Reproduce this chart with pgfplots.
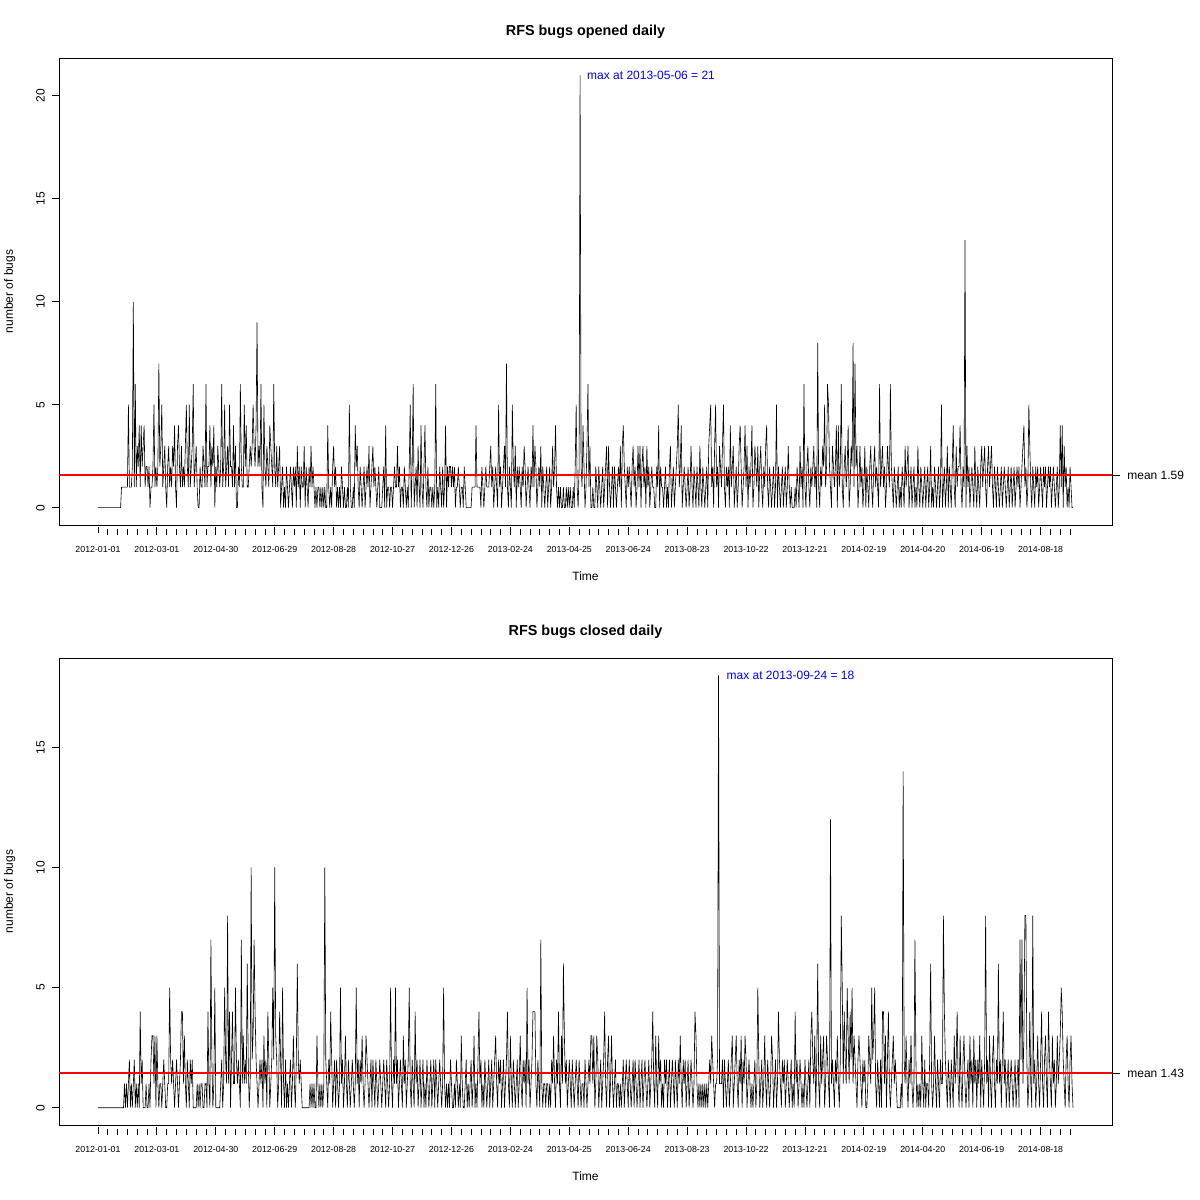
\documentclass[border=0pt]{standalone}
\usepackage{pgfplots}
\pgfplotsset{compat=1.18}
\usepackage{pgfplotstable}
\usepackage{fontspec}
\setmainfont{Liberation Sans}

% daily counts from 2012-01-01, one value per day
\pgfplotstableread[header=false,row sep=\\]{
0\\0\\0\\0\\0\\0\\0\\0\\0\\0\\
0\\0\\0\\0\\0\\0\\0\\0\\0\\0\\
0\\0\\0\\0\\1\\1\\1\\1\\1\\1\\
1\\5\\1\\1\\1\\2\\10\\1\\6\\1\\
3\\2\\4\\1\\4\\2\\3\\4\\1\\2\\
2\\1\\2\\0\\1\\1\\2\\5\\1\\2\\
1\\2\\7\\2\\3\\5\\1\\2\\3\\1\\
0\\2\\3\\1\\2\\1\\3\\2\\4\\1\\
0\\3\\4\\2\\1\\3\\1\\2\\1\\3\\
5\\2\\1\\5\\1\\2\\3\\6\\1\\2\\
3\\1\\0\\0\\2\\1\\1\\3\\2\\1\\
6\\1\\2\\2\\4\\1\\3\\2\\4\\0\\
2\\1\\3\\2\\1\\2\\6\\1\\2\\5\\
1\\2\\3\\1\\5\\2\\2\\1\\4\\1\\
3\\0\\0\\2\\1\\6\\2\\1\\1\\5\\
2\\4\\1\\1\\2\\3\\2\\3\\5\\3\\
2\\4\\9\\2\\3\\2\\6\\1\\0\\5\\
2\\1\\3\\2\\1\\4\\3\\2\\1\\6\\
2\\1\\3\\1\\2\\3\\0\\1\\2\\0\\
1\\0\\2\\1\\0\\1\\2\\1\\0\\2\\
1\\2\\0\\3\\1\\2\\0\\2\\1\\1\\
3\\0\\2\\1\\0\\2\\1\\3\\1\\2\\
1\\0\\1\\0\\1\\1\\0\\1\\0\\1\\
0\\1\\0\\0\\4\\1\\0\\1\\0\\2\\
3\\1\\2\\0\\1\\0\\1\\0\\2\\1\\
0\\1\\0\\0\\1\\0\\5\\1\\0\\0\\
1\\0\\4\\2\\3\\1\\0\\2\\1\\0\\
1\\2\\0\\1\\2\\1\\3\\0\\1\\2\\
3\\1\\2\\1\\0\\1\\2\\0\\0\\0\\
1\\2\\0\\4\\0\\1\\1\\0\\1\\1\\
0\\1\\2\\1\\1\\3\\1\\2\\0\\1\\
1\\0\\2\\1\\0\\1\\0\\2\\5\\0\\
2\\6\\0\\1\\2\\0\\3\\1\\0\\4\\
1\\0\\2\\4\\1\\0\\2\\0\\1\\1\\
0\\1\\0\\1\\6\\0\\1\\0\\2\\1\\
0\\2\\0\\1\\4\\0\\2\\1\\2\\2\\
1\\2\\1\\2\\0\\1\\1\\2\\1\\0\\
1\\1\\0\\2\\1\\0\\0\\0\\0\\0\\
0\\1\\1\\1\\1\\4\\1\\1\\1\\1\\
0\\2\\1\\0\\1\\2\\1\\1\\1\\2\\
3\\1\\2\\0\\1\\2\\1\\0\\5\\1\\
2\\0\\1\\2\\3\\1\\7\\1\\0\\2\\
1\\0\\5\\2\\1\\3\\0\\2\\1\\2\\
1\\0\\2\\1\\3\\2\\0\\1\\2\\1\\
0\\2\\1\\4\\1\\3\\2\\0\\1\\2\\
1\\3\\0\\2\\1\\0\\1\\2\\0\\1\\
2\\0\\1\\3\\1\\2\\4\\1\\0\\1\\
0\\1\\0\\0\\1\\0\\0\\1\\0\\1\\
0\\1\\0\\0\\1\\0\\2\\5\\1\\0\\
2\\21\\2\\1\\4\\2\\0\\1\\3\\6\\
1\\3\\0\\0\\1\\0\\0\\2\\1\\0\\
2\\1\\0\\1\\2\\0\\1\\2\\3\\0\\
3\\1\\0\\1\\2\\0\\2\\1\\0\\1\\
2\\1\\3\\0\\3\\4\\2\\1\\0\\2\\
1\\2\\1\\0\\2\\3\\1\\2\\0\\1\\
3\\1\\3\\0\\2\\3\\1\\2\\0\\3\\
1\\2\\0\\1\\2\\1\\1\\0\\0\\2\\
1\\4\\0\\2\\1\\1\\0\\1\\2\\0\\
1\\0\\2\\3\\0\\1\\2\\0\\1\\2\\
3\\5\\1\\2\\4\\0\\1\\2\\1\\0\\
1\\2\\0\\1\\3\\1\\0\\2\\1\\0\\
2\\1\\0\\3\\1\\0\\2\\1\\0\\1\\
2\\0\\3\\4\\5\\1\\2\\0\\3\\5\\
1\\2\\0\\3\\2\\1\\3\\5\\1\\0\\
2\\1\\2\\0\\4\\1\\2\\3\\0\\1\\
2\\0\\1\\3\\4\\2\\0\\1\\2\\4\\
1\\3\\0\\2\\1\\2\\4\\0\\1\\3\\
2\\1\\3\\0\\2\\3\\1\\0\\2\\1\\
3\\4\\1\\0\\2\\1\\0\\1\\2\\0\\
1\\5\\0\\2\\1\\0\\1\\2\\0\\1\\
2\\0\\1\\3\\1\\0\\1\\0\\0\\0\\
1\\0\\2\\1\\0\\3\\1\\2\\0\\6\\
1\\0\\2\\3\\1\\0\\2\\1\\2\\3\\
1\\2\\0\\8\\1\\0\\2\\1\\3\\2\\
5\\1\\2\\6\\5\\2\\1\\0\\3\\2\\
1\\2\\4\\0\\4\\1\\2\\6\\1\\0\\
2\\3\\1\\2\\4\\0\\1\\3\\2\\8\\
1\\7\\2\\3\\0\\1\\3\\1\\2\\0\\
1\\3\\0\\2\\1\\0\\2\\3\\1\\0\\
2\\3\\1\\2\\1\\0\\6\\1\\2\\3\\
1\\2\\0\\1\\3\\2\\1\\6\\2\\1\\
0\\2\\1\\0\\1\\2\\0\\1\\0\\2\\
1\\0\\3\\1\\2\\3\\0\\1\\2\\0\\
1\\2\\0\\1\\0\\3\\1\\0\\2\\1\\
0\\1\\2\\0\\1\\2\\0\\1\\3\\0\\
1\\0\\2\\1\\0\\1\\2\\0\\1\\5\\
0\\1\\2\\0\\1\\3\\0\\2\\1\\0\\
2\\4\\1\\0\\3\\1\\2\\2\\4\\1\\
0\\2\\1\\13\\0\\3\\1\\2\\0\\1\\
2\\1\\0\\3\\1\\0\\2\\1\\0\\2\\
3\\1\\2\\3\\1\\0\\2\\3\\1\\2\\
3\\1\\0\\2\\1\\0\\2\\1\\0\\1\\
2\\0\\1\\2\\1\\0\\1\\2\\0\\1\\
2\\0\\1\\2\\0\\1\\2\\1\\2\\0\\
1\\2\\3\\4\\1\\2\\0\\1\\5\\3\\
1\\0\\2\\1\\0\\2\\1\\2\\0\\1\\
2\\1\\0\\2\\1\\2\\0\\1\\2\\1\\
2\\0\\1\\2\\1\\0\\1\\2\\0\\1\\
4\\1\\4\\0\\3\\1\\2\\0\\1\\0\\
2\\1\\0\\0\\
}\opened

\pgfplotstableread[header=false,row sep=\\]{
0\\0\\0\\0\\0\\0\\0\\0\\0\\0\\
0\\0\\0\\0\\0\\0\\0\\0\\0\\0\\
0\\0\\0\\0\\0\\0\\0\\1\\0\\1\\
0\\1\\2\\0\\1\\0\\1\\2\\0\\1\\
0\\1\\0\\4\\1\\2\\0\\0\\0\\1\\
0\\0\\1\\0\\2\\3\\3\\1\\3\\0\\
3\\1\\0\\1\\1\\0\\1\\2\\1\\0\\
0\\1\\1\\5\\2\\1\\2\\1\\0\\1\\
2\\1\\0\\1\\2\\4\\4\\1\\3\\1\\
0\\2\\1\\0\\2\\1\\2\\0\\0\\0\\
0\\1\\0\\1\\0\\1\\1\\0\\0\\1\\
1\\0\\4\\1\\0\\7\\2\\0\\1\\5\\
0\\0\\0\\0\\0\\1\\2\\0\\1\\5\\
2\\1\\8\\1\\4\\0\\2\\4\\1\\1\\
5\\2\\1\\2\\1\\0\\7\\1\\3\\1\\
2\\1\\6\\2\\0\\1\\10\\2\\3\\7\\
4\\2\\1\\0\\1\\2\\1\\2\\0\\3\\
1\\2\\0\\4\\2\\0\\1\\2\\5\\2\\
10\\3\\2\\0\\1\\4\\2\\0\\5\\1\\
0\\2\\0\\1\\0\\1\\2\\0\\1\\3\\
1\\0\\2\\6\\2\\1\\2\\1\\0\\0\\
0\\0\\0\\0\\0\\0\\1\\0\\1\\0\\
1\\0\\0\\3\\1\\0\\1\\0\\1\\0\\
1\\10\\2\\1\\0\\2\\1\\4\\2\\0\\
1\\2\\0\\2\\1\\0\\1\\5\\1\\2\\
0\\1\\3\\1\\0\\2\\1\\0\\1\\2\\
1\\0\\1\\5\\1\\2\\0\\2\\1\\3\\
1\\0\\1\\3\\2\\1\\0\\1\\2\\0\\
2\\1\\0\\2\\1\\0\\1\\2\\1\\0\\
1\\2\\1\\0\\2\\1\\0\\1\\5\\1\\
0\\2\\1\\5\\1\\2\\0\\1\\2\\1\\
0\\3\\1\\2\\0\\1\\2\\5\\1\\0\\
2\\1\\0\\4\\1\\2\\0\\1\\2\\0\\
1\\2\\0\\1\\0\\2\\1\\0\\1\\2\\
0\\1\\2\\0\\2\\1\\0\\1\\2\\1\\
0\\1\\5\\1\\0\\1\\0\\1\\0\\2\\
1\\0\\0\\1\\0\\2\\1\\0\\1\\0\\
3\\1\\0\\0\\1\\2\\0\\1\\0\\1\\
2\\0\\1\\3\\0\\1\\0\\2\\4\\1\\
2\\0\\1\\0\\2\\1\\0\\1\\2\\0\\
1\\2\\0\\1\\2\\3\\1\\0\\2\\1\\
2\\0\\1\\2\\0\\1\\2\\4\\1\\0\\
3\\1\\0\\2\\1\\0\\1\\2\\0\\1\\
3\\1\\0\\2\\1\\2\\0\\5\\1\\2\\
0\\1\\2\\4\\4\\4\\1\\0\\2\\1\\
0\\7\\1\\0\\1\\1\\0\\1\\1\\0\\
1\\0\\2\\1\\3\\1\\0\\2\\1\\4\\
1\\0\\3\\1\\6\\3\\1\\2\\0\\1\\
2\\1\\0\\2\\1\\0\\1\\2\\1\\0\\
2\\1\\0\\1\\1\\0\\2\\1\\0\\1\\
2\\1\\3\\3\\1\\3\\0\\1\\3\\2\\
0\\1\\2\\0\\1\\2\\4\\1\\0\\2\\
3\\0\\1\\3\\1\\0\\1\\2\\0\\1\\
1\\0\\1\\0\\1\\2\\0\\1\\2\\1\\
0\\2\\1\\0\\1\\2\\0\\2\\1\\0\\
1\\2\\0\\1\\2\\0\\1\\2\\1\\0\\
1\\2\\0\\1\\2\\4\\1\\0\\3\\1\\
0\\3\\1\\2\\0\\1\\0\\2\\1\\2\\
0\\1\\2\\0\\1\\2\\1\\0\\2\\1\\
0\\2\\1\\3\\1\\0\\2\\1\\2\\0\\
1\\2\\0\\1\\2\\1\\0\\1\\4\\3\\
1\\0\\1\\0\\1\\0\\1\\0\\1\\0\\
1\\0\\1\\2\\1\\3\\2\\1\\0\\1\\
1\\2\\18\\1\\1\\1\\2\\0\\2\\1\\
0\\1\\2\\0\\1\\2\\3\\0\\1\\2\\
3\\1\\0\\2\\1\\3\\0\\2\\1\\3\\
2\\0\\1\\2\\1\\0\\1\\0\\1\\2\\
0\\1\\5\\2\\0\\1\\2\\0\\1\\3\\
1\\0\\2\\1\\0\\1\\3\\2\\0\\1\\
2\\0\\1\\4\\2\\1\\0\\2\\1\\2\\
0\\1\\2\\1\\0\\1\\2\\0\\1\\0\\
4\\1\\2\\0\\1\\2\\1\\0\\1\\0\\
2\\1\\0\\1\\2\\0\\3\\4\\2\\1\\
3\\0\\2\\6\\1\\0\\3\\1\\2\\3\\
0\\1\\3\\2\\1\\0\\12\\1\\2\\1\\
0\\2\\1\\3\\1\\0\\2\\8\\5\\1\\
4\\2\\1\\5\\3\\1\\4\\2\\5\\1\\
3\\2\\1\\0\\2\\3\\2\\1\\0\\2\\
1\\2\\0\\0\\1\\3\\2\\1\\5\\2\\
3\\5\\1\\0\\2\\1\\0\\2\\0\\4\\
4\\1\\3\\0\\2\\4\\1\\0\\1\\2\\
3\\1\\2\\1\\0\\0\\0\\0\\1\\0\\
14\\2\\1\\3\\1\\0\\2\\1\\3\\1\\
0\\1\\7\\2\\0\\1\\0\\1\\0\\3\\
1\\0\\2\\0\\1\\1\\0\\2\\6\\1\\
0\\1\\3\\1\\0\\2\\1\\0\\2\\1\\
1\\8\\4\\2\\1\\0\\2\\1\\0\\2\\
1\\0\\3\\1\\2\\4\\1\\0\\3\\1\\
0\\2\\3\\1\\0\\1\\2\\0\\3\\1\\
2\\0\\3\\1\\2\\0\\2\\1\\3\\0\\
2\\1\\0\\2\\8\\1\\2\\0\\3\\1\\
0\\2\\3\\1\\0\\2\\1\\6\\1\\2\\
0\\2\\4\\1\\2\\0\\1\\2\\0\\1\\
2\\1\\0\\1\\2\\0\\1\\2\\0\\7\\
2\\7\\1\\3\\8\\8\\2\\0\\1\\4\\
1\\0\\8\\1\\2\\0\\1\\3\\1\\0\\
2\\4\\1\\0\\2\\3\\1\\0\\4\\2\\
1\\0\\3\\1\\2\\0\\1\\3\\1\\2\\
3\\5\\4\\2\\1\\0\\2\\3\\1\\0\\
2\\3\\1\\0\\
}\closed

\pgfplotsset{
  rplot/.style={
    scale only axis, width=1053pt, height=467pt,
    xmin=-39.7, xmax=1032.7,
    clip=false,
    axis line style={line width=0.8pt},
    xtick={0,60,...,960},
    xticklabels={2012-01-01,2012-03-01,2012-04-30,2012-06-29,2012-08-28,2012-10-27,2012-12-26,2013-02-24,2013-04-25,2013-06-24,2013-08-23,2013-10-22,2013-12-21,2014-02-19,2014-04-20,2014-06-19,2014-08-18},
    minor xtick={10,20,...,990},
    xtick pos=bottom, ytick pos=left,
    tick align=outside,
    major tick length=6.5pt, minor tick length=6pt,
    xtick style={black,line width=0.8pt,yshift=-2pt},
    every minor tick/.append style={black,line width=0.8pt,yshift=-2pt},
    ytick style={black,line width=0.8pt},
    xticklabel style={font=\fontsize{8.8}{10}\selectfont,anchor=base},
    xticklabel shift=21pt,
    yticklabel style={font=\fontsize{12}{14}\selectfont,rotate=90,anchor=base},
    yticklabel shift=8pt,
    /pgf/number format/assume math mode=true,
    title style={at={(axis description cs:0.5,1.0343)},anchor=base,font=\fontsize{14.4}{17}\selectfont\bfseries},
    xlabel={Time},
    xlabel style={at={(axis description cs:0.5,-0.1199)},anchor=base,font=\fontsize{12}{14}\selectfont},
    ylabel={number of bugs},
    ylabel style={at={(axis description cs:-0.0437,0.5)},anchor=base,rotate=0,font=\fontsize{12}{14}\selectfont},
  }
}

\begin{document}
\begin{tikzpicture}
\path[use as bounding box] (0pt,0pt) rectangle (1200pt,1200pt);

\begin{axis}[rplot, at={(59pt,675pt)}, anchor=south west,
  ymin=-0.84, ymax=21.84, ytick={0,5,...,20},
  title={RFS bugs opened daily}]
\addplot[black, line width=0.6pt, mark=none] table[x expr=\coordindex, y index=0] {\opened};
\addplot[red, line width=1.8pt, mark=none] coordinates {(-39.7,1.59) (1032.7,1.59)};
\node[blue, anchor=west, inner sep=0pt, font=\fontsize{12}{14}\selectfont] at (axis cs:498,21) {max at 2013-05-06 = 21};
\draw[line width=0.8pt] (axis cs:1032.7,1.59) -- ++(8pt,0pt) node[anchor=west, inner sep=0pt, xshift=7pt, font=\fontsize{12}{14}\selectfont] {mean 1.59};
\end{axis}

\begin{axis}[rplot, at={(59pt,75pt)}, anchor=south west,
  ymin=-0.72, ymax=18.72, ytick={0,5,...,15},
  title={RFS bugs closed daily}]
\addplot[black, line width=0.6pt, mark=none] table[x expr=\coordindex, y index=0] {\closed};
\addplot[red, line width=1.8pt, mark=none] coordinates {(-39.7,1.43) (1032.7,1.43)};
\node[blue, anchor=west, inner sep=0pt, font=\fontsize{12}{14}\selectfont] at (axis cs:640,18) {max at 2013-09-24 = 18};
\draw[line width=0.8pt] (axis cs:1032.7,1.43) -- ++(8pt,0pt) node[anchor=west, inner sep=0pt, xshift=7pt, font=\fontsize{12}{14}\selectfont] {mean 1.43};
\end{axis}
\end{tikzpicture}
\end{document}
